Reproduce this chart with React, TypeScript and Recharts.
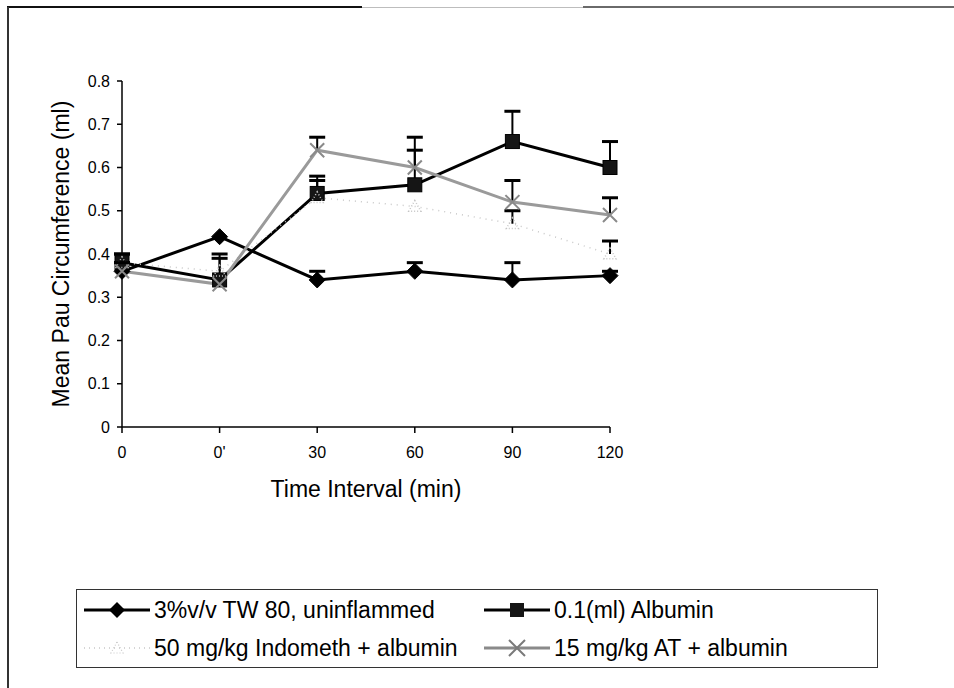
import React from 'react';
import { LineChart, Line, XAxis, YAxis, ErrorBar, Label } from 'recharts';

// ---- data ----
const categories = ['0', "0'", '30', '60', '90', '120'];

const tw80 = [0.36, 0.44, 0.34, 0.36, 0.34, 0.35];
const tw80Err = [0.02, 0, 0.02, 0.02, 0.04, 0.01];

const albumin = [0.38, 0.34, 0.54, 0.56, 0.66, 0.6];
const albuminErr = [0.02, 0.06, 0.04, 0.11, 0.07, 0.06];

const indometh = [0.38, 0.36, 0.53, 0.51, 0.47, 0.4];
const indomethErr = [0.02, 0.03, 0.04, 0, 0.03, 0.03];

const at = [0.36, 0.33, 0.64, 0.6, 0.52, 0.49];
const atErr = [0.02, 0, 0.03, 0.04, 0.05, 0.04];

const yTicks = [0, 0.1, 0.2, 0.3, 0.4, 0.5, 0.6, 0.7, 0.8];

const seriesNames = [
  '3%v/v TW 80, uninflammed',
  '0.1(ml) Albumin',
  '50 mg/kg Indometh + albumin',
  '15 mg/kg AT + albumin',
];

// ---- table built for the library ----
const r2 = (v: number) => Math.round(v * 1000) / 1000;
const data = categories.map((c, i) => ({
  cat: c,
  tw80: tw80[i],
  tw80E: [0, tw80Err[i]],
  tw80Hi: tw80Err[i] > 0 ? r2(tw80[i] + tw80Err[i]) : null,
  albumin: albumin[i],
  albuminE: [0, albuminErr[i]],
  albuminHi: albuminErr[i] > 0 ? r2(albumin[i] + albuminErr[i]) : null,
  indometh: indometh[i],
  indomethE: [0, indomethErr[i]],
  indomethHi: indomethErr[i] > 0 ? r2(indometh[i] + indomethErr[i]) : null,
  at: at[i],
  atE: [0, atErr[i]],
  atHi: atErr[i] > 0 ? r2(at[i] + atErr[i]) : null,
}));

const FONT = '"Liberation Sans", Arial, sans-serif';

const ok = (p: any) => p && p.cx != null && p.cy != null && !isNaN(p.cx) && !isNaN(p.cy);

const DiamondDot = (p: any) => {
  if (!ok(p)) return <g key={p?.key} />;
  const { cx, cy } = p;
  const s = 8;
  return (
    <path key={p.key} d={`M${cx},${cy - s}L${cx + s},${cy}L${cx},${cy + s}L${cx - s},${cy}Z`} fill="#000" stroke="#000" strokeWidth={1} />
  );
};

const SquareDot = (p: any) => {
  if (!ok(p)) return <g key={p?.key} />;
  const { cx, cy } = p;
  const s = 7;
  return <rect key={p.key} x={cx - s} y={cy - s} width={2 * s} height={2 * s} fill="#151515" stroke="#000" strokeWidth={1} />;
};

const XDot = (p: any) => {
  if (!ok(p)) return <g key={p?.key} />;
  const { cx, cy } = p;
  const s = 7;
  return (
    <path key={p.key} d={`M${cx - s},${cy - s}L${cx + s},${cy + s}M${cx - s},${cy + s}L${cx + s},${cy - s}`} stroke="#8a8a8a" strokeWidth={2} fill="none" />
  );
};

const TriDot = (p: any) => {
  if (!ok(p)) return <g key={p?.key} />;
  const { cx, cy } = p;
  const s = 6;
  return (
    <path key={p.key} d={`M${cx},${cy - s}L${cx + s},${cy + s * 0.8}L${cx - s},${cy + s * 0.8}Z`} stroke="#c4c4c4" strokeWidth={1.5} strokeDasharray="1 2" fill="none" />
  );
};

const CapDot = (p: any) => {
  if (!ok(p)) return <g key={p?.key} />;
  const { cx, cy } = p;
  return <line key={p.key} x1={cx - 8} x2={cx + 8} y1={cy} y2={cy} stroke="#000" strokeWidth={3} />;
};

const fmtY = (v: number) => (v === 0 ? '0' : v.toFixed(1));

const LegendIcon = ({ kind }: { kind: number }) => {
  const w = 66;
  const h = 20;
  const cx = w / 2;
  const cy = h / 2;
  if (kind === 0)
    return (
      <svg width={w} height={h}>
        <line x1={0} x2={w} y1={cy} y2={cy} stroke="#000" strokeWidth={3} />
        <path d={`M${cx},${cy - 8}L${cx + 8},${cy}L${cx},${cy + 8}L${cx - 8},${cy}Z`} fill="#000" />
      </svg>
    );
  if (kind === 1)
    return (
      <svg width={w} height={h}>
        <line x1={0} x2={w} y1={cy} y2={cy} stroke="#000" strokeWidth={3} />
        <rect x={cx - 7} y={cy - 7} width={14} height={14} fill="#151515" />
      </svg>
    );
  if (kind === 2)
    return (
      <svg width={w} height={h}>
        <line x1={0} x2={w} y1={cy} y2={cy} stroke="#c8c8c8" strokeWidth={1.5} strokeDasharray="1 4" />
        <path d={`M${cx},${cy - 6}L${cx + 6},${cy + 5}L${cx - 6},${cy + 5}Z`} stroke="#c8c8c8" strokeWidth={1.2} strokeDasharray="1 2" fill="none" />
      </svg>
    );
  return (
    <svg width={w} height={h}>
      <line x1={0} x2={w} y1={cy} y2={cy} stroke="#8a8a8a" strokeWidth={3} />
      <path d={`M${cx - 8},${cy - 8}L${cx + 8},${cy + 8}M${cx - 8},${cy + 8}L${cx + 8},${cy - 8}`} stroke="#7a7a7a" strokeWidth={2} />
    </svg>
  );
};

const legendPos = [
  { left: 7, top: 20 },
  { left: 407, top: 20 },
  { left: 7, top: 58 },
  { left: 407, top: 58 },
];

export default function App() {
  return (
    <div style={{ position: 'fixed', left: 0, top: 0, width: 954, height: 688, background: '#fff', fontFamily: FONT, overflow: 'hidden' }}>
      {/* scanned frame */}
      <div style={{ position: 'absolute', left: 7, top: 6, width: 355, height: 2, background: '#111' }} />
      <div style={{ position: 'absolute', left: 362, top: 7, width: 221, height: 1, background: '#bdbdbd' }} />
      <div style={{ position: 'absolute', left: 583, top: 6, width: 371, height: 2, background: '#6a6a6a' }} />
      <div style={{ position: 'absolute', left: 7, top: 7, width: 1.5, height: 681, background: '#333' }} />

      <div style={{ position: 'absolute', left: 0, top: 0 }}>
        <LineChart width={954} height={688} data={data} margin={{ top: 81, right: 344, bottom: 221, left: 62 }}>
          <XAxis
            dataKey="cat"
            height={40}
            stroke="#000"
            strokeWidth={1.5}
            tickSize={6}
            tickMargin={14}
            tick={{ fill: '#000', fontSize: 16, fontFamily: FONT }}
            tickLine={{ stroke: '#000', strokeWidth: 1.5 }}
            interval={0}
          >
            <Label
              content={(p: any) => {
                const vb = p.viewBox || { x: 122, y: 427, width: 488, height: 40 };
                return (
                  <text x={vb.x + vb.width / 2} y={vb.y + 70} textAnchor="middle" fontSize={23} fontFamily={FONT} fill="#000">
                    Time Interval (min)
                  </text>
                );
              }}
            />
          </XAxis>
          <YAxis
            width={60}
            domain={[0, 0.8]}
            ticks={yTicks}
            tickFormatter={fmtY}
            stroke="#000"
            strokeWidth={1.5}
            tickSize={5}
            tickMargin={7}
            tick={{ fill: '#000', fontSize: 16, fontFamily: FONT }}
            tickLine={{ stroke: '#000', strokeWidth: 1.5 }}
            interval={0}
          >
            <Label
              content={(p: any) => {
                const vb = p.viewBox || { x: 62, y: 81, width: 60, height: 346 };
                const cx = 69;
                const cy = vb.y + vb.height / 2;
                return (
                  <text x={cx} y={cy} transform={`rotate(-90, ${cx}, ${cy})`} textAnchor="middle" fontSize={23} fontFamily={FONT} fill="#000">
                    Mean Pau Circumference (ml)
                  </text>
                );
              }}
            />
          </YAxis>

          <Line dataKey="tw80" name={seriesNames[0]} stroke="#000" strokeWidth={3} dot={DiamondDot} activeDot={false} isAnimationActive={false}>
            <ErrorBar dataKey="tw80E" direction="y" width={0} stroke="#000" strokeWidth={2} />
          </Line>
          <Line dataKey="tw80Hi" stroke="none" dot={CapDot} activeDot={false} legendType="none" isAnimationActive={false} />

          <Line dataKey="albumin" name={seriesNames[1]} stroke="#000" strokeWidth={3} dot={SquareDot} activeDot={false} isAnimationActive={false}>
            <ErrorBar dataKey="albuminE" direction="y" width={0} stroke="#000" strokeWidth={2} />
          </Line>
          <Line dataKey="albuminHi" stroke="none" dot={CapDot} activeDot={false} legendType="none" isAnimationActive={false} />

          <Line dataKey="indometh" name={seriesNames[2]} stroke="#c8c8c8" strokeWidth={1.5} strokeDasharray="1 5" dot={TriDot} activeDot={false} isAnimationActive={false}>
            <ErrorBar dataKey="indomethE" direction="y" width={0} stroke="#000" strokeWidth={2} />
          </Line>
          <Line dataKey="indomethHi" stroke="none" dot={CapDot} activeDot={false} legendType="none" isAnimationActive={false} />

          <Line dataKey="at" name={seriesNames[3]} stroke="#9a9a9a" strokeWidth={3} dot={XDot} activeDot={false} isAnimationActive={false}>
            <ErrorBar dataKey="atE" direction="y" width={0} stroke="#000" strokeWidth={2} />
          </Line>
          <Line dataKey="atHi" stroke="none" dot={CapDot} activeDot={false} legendType="none" isAnimationActive={false} />
        </LineChart>
      </div>

      {/* legend */}
      <div
        style={{
          position: 'absolute',
          left: 76,
          top: 589,
          width: 802,
          height: 79,
          border: '1.5px solid #333',
          boxSizing: 'border-box',
          background: '#fff',
        }}
      >
        {seriesNames.map((n, i) => (
          <div key={n} style={{ position: 'absolute', left: legendPos[i].left, top: legendPos[i].top - 14, height: 28, display: 'flex', alignItems: 'center', whiteSpace: 'nowrap' }}>
            <LegendIcon kind={i} />
            <span style={{ fontSize: 23, fontFamily: FONT, color: '#000', marginLeft: 4 }}>{n}</span>
          </div>
        ))}
      </div>
    </div>
  );
}
